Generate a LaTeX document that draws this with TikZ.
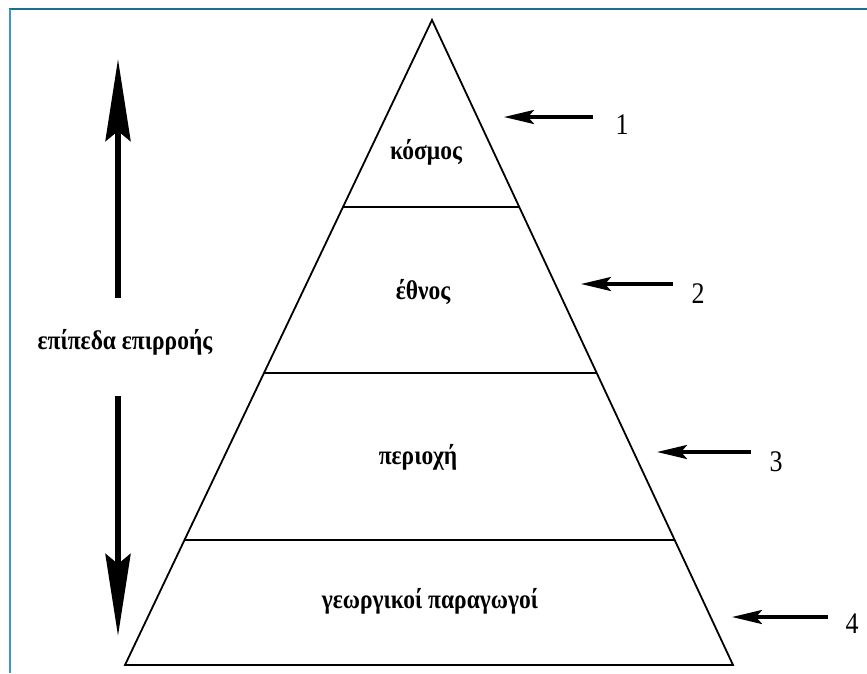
\documentclass[tikz,border=0pt]{standalone}
\usepackage{fontspec}
\setmainfont{Liberation Serif}
\usetikzlibrary{arrows.meta,calc}
\newcommand\stretchtxt[1]{\scalebox{1}[1.15]{#1}}
\tikzset{
  pyr/.style={line width=1.8pt, line join=miter},
  bigarrow/.style={line width=6pt, -{Stealth[length=82pt,width=25pt,inset=10pt]}},
  smallarrow/.style={line width=3.5pt, -{Stealth[length=30pt,width=14pt,inset=6pt]}},
  lvl/.style={font=\bfseries\fontsize{23.5}{27}\selectfont, inner sep=0pt},
  num/.style={font=\fontsize{26}{30}\selectfont, inner sep=0pt},
}
\begin{document}
\begin{tikzpicture}[x=1pt,y=-1pt]
\useasboundingbox (0,0) rectangle (867,673);
\fill[white] (0,0) rectangle (867,673);
% frame
\draw[line width=2.5pt, color={rgb,255:red,26;green,110;blue,150}] (9,9) -- (867,9);
\draw[line width=2pt, color={rgb,255:red,60;green,150;blue,205}] (10,9) -- (10,673);
% pyramid
\coordinate (apex) at (432,20);
\coordinate (bl) at (125,665);
\coordinate (br) at (733,665);
\draw[pyr] (apex) -- (bl) -- (br) -- cycle;
\coordinate (l1) at ($(apex)!0.290!(bl)$);
\coordinate (r1) at ($(apex)!0.290!(br)$);
\coordinate (l2) at ($(apex)!0.547!(bl)$);
\coordinate (r2) at ($(apex)!0.547!(br)$);
\coordinate (l3) at ($(apex)!0.806!(bl)$);
\coordinate (r3) at ($(apex)!0.806!(br)$);
\draw[pyr] (l1) -- (r1);
\draw[pyr] (l2) -- (r2);
\draw[pyr] (l3) -- (r3);
% level labels
\node[lvl] (kosmos) at (426,152) {\stretchtxt{κόσμος}};
\node[lvl] (ethnos) at (423,292) {\stretchtxt{έθνος}};
\node[lvl] (periochi) at (418,457) {\stretchtxt{περιοχή}};
\node[lvl] (georgikoi) at (430,601) {\stretchtxt{γεωργικοί παραγωγοί}};
% right arrows
\coordinate (a1s) at (593,117); \coordinate (a1e) at (504,117);
\coordinate (a2s) at (673,284); \coordinate (a2e) at (581,284);
\coordinate (a3s) at (751,452); \coordinate (a3e) at (657,452);
\coordinate (a4s) at (828,617); \coordinate (a4e) at (732,617);
\draw[smallarrow] (a1s) -- (a1e);
\draw[smallarrow] (a2s) -- (a2e);
\draw[smallarrow] (a3s) -- (a3e);
\draw[smallarrow] (a4s) -- (a4e);
\node[num] (n1) at (622,125) {\stretchtxt{1}};
\node[num] (n2) at (698,294) {\stretchtxt{2}};
\node[num] (n3) at (776,462) {\stretchtxt{3}};
\node[num] (n4) at (852,624) {\stretchtxt{4}};
% left arrows and label
\node[lvl] (epipeda) at (125,342) {\stretchtxt{επίπεδα επιρροής}};
\coordinate (upstart) at (118,298); \coordinate (uptip) at (118,59);
\coordinate (dnstart) at (118,396); \coordinate (dntip) at (118,636);
\draw[bigarrow] (upstart) -- (uptip);
\draw[bigarrow] (dnstart) -- (dntip);
\end{tikzpicture}
\end{document}
